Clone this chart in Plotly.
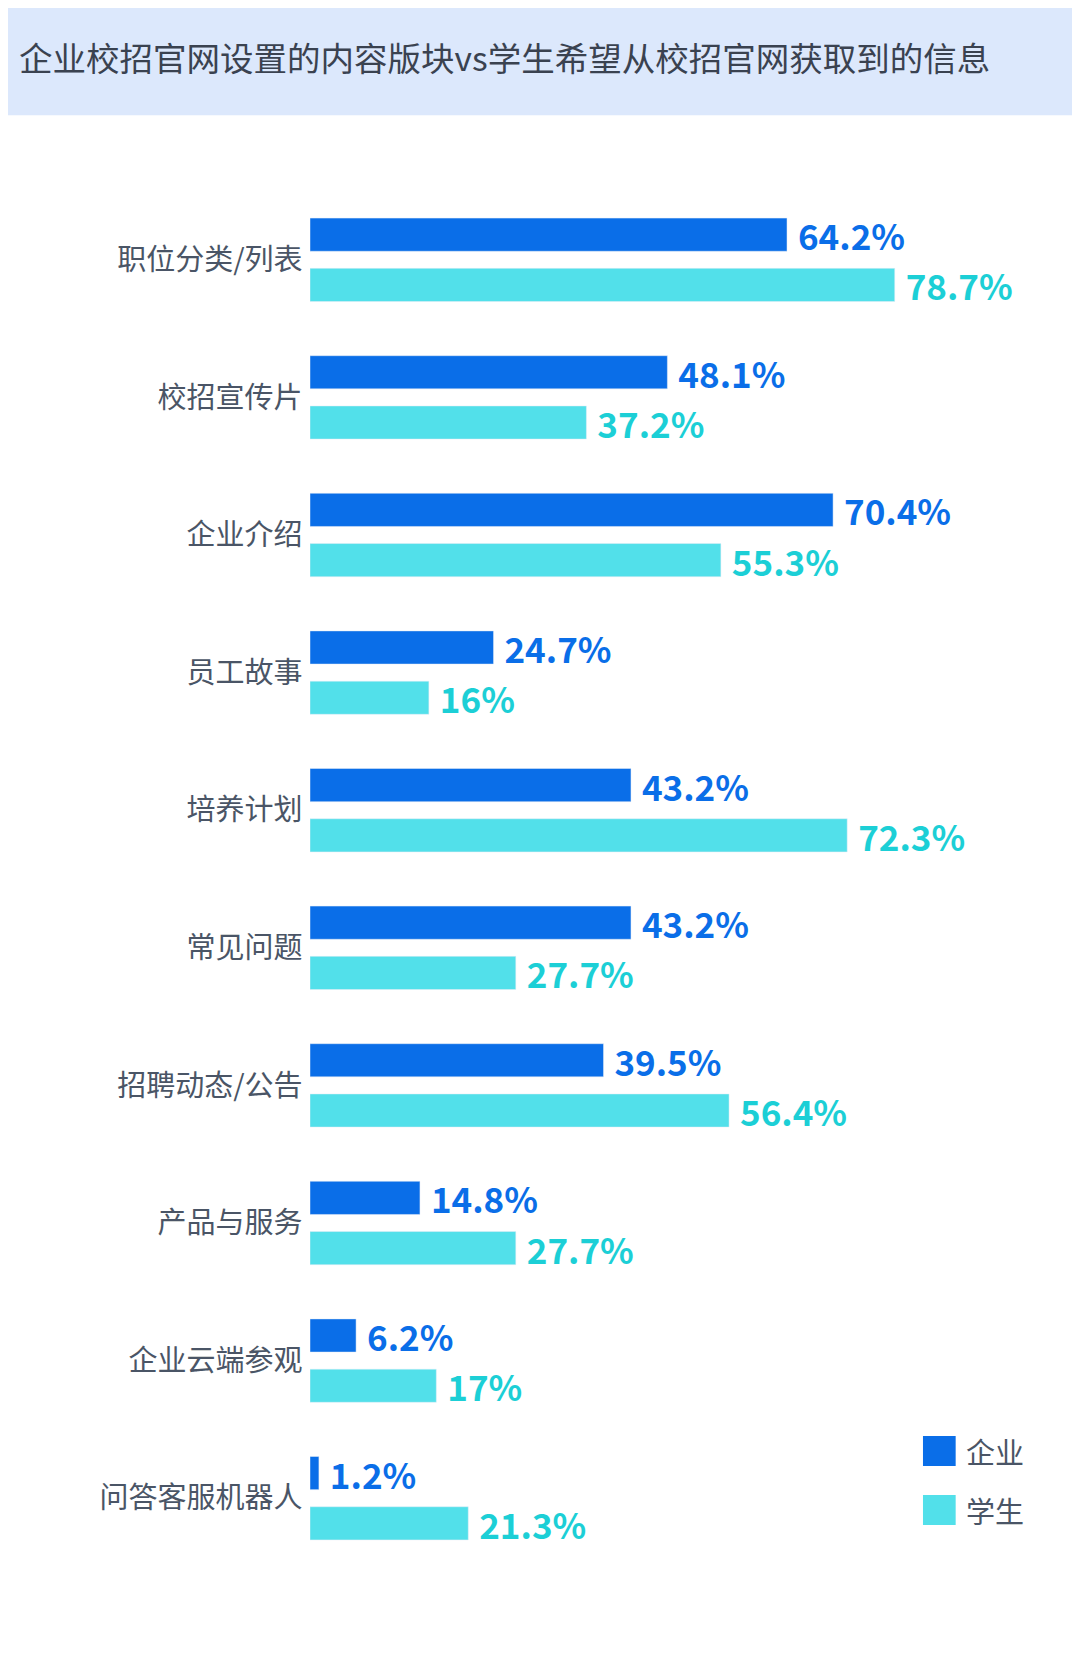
import plotly.graph_objects as go

categories = ["职位分类/列表", "校招宣传片", "企业介绍", "员工故事", "培养计划",
              "常见问题", "招聘动态/公告", "产品与服务", "企业云端参观", "问答客服机器人"]
enterprise = [64.2, 48.1, 70.4, 24.7, 43.2, 43.2, 39.5, 14.8, 6.2, 1.2]
student = [78.7, 37.2, 55.3, 16, 72.3, 27.7, 56.4, 27.7, 17, 21.3]
series_names = ["企业", "学生"]
colors = ["#0a6ee8", "#52e0ea"]
text_colors = ["#0a6ee8", "#1ccfd6"]
title = "企业校招官网设置的内容版块vs学生希望从校招官网获取到的信息"

def fmt(v):
    return f"{v:g}%"

FONT = "Noto Sans CJK SC"
fig = go.Figure()
for name, vals, c, tc in zip(series_names, [enterprise, student], colors, text_colors):
    fig.add_trace(go.Bar(y=categories, x=vals, orientation="h", name=name,
                         marker_color=c, text=[" " + fmt(v) for v in vals],
                         textposition="outside", cliponaxis=False, constraintext="none",
                         textfont=dict(color=tc, size=35, family=FONT, weight="bold")))

shapes = [dict(type="rect", xref="paper", yref="paper", x0=-0.5, x1=1.1,
               y0=1.055, y1=1.2, fillcolor="#dce8fc", line_width=0, layer="below")]
annotations = [dict(text=title, xref="paper", yref="paper", x=-0.395, y=1.098,
                    xanchor="left", yanchor="middle", showarrow=False,
                    font=dict(size=33.5, color="#3a4250", family=FONT))]
for i, (name, c) in enumerate(zip(series_names, colors)):
    y0 = 0.0952 - i * 0.0429
    shapes.append(dict(type="rect", xref="paper", yref="paper", x0=0.825, x1=0.869,
                       y0=y0 - 0.0218, y1=y0, fillcolor=c, line_width=0))
    annotations.append(dict(text=name, xref="paper", yref="paper", x=0.88, y=y0 - 0.0109,
                            xanchor="left", yanchor="middle", showarrow=False,
                            font=dict(size=29, color="#4a5566", family=FONT)))

fig.update_layout(
    width=1080, height=1665, paper_bgcolor="white", plot_bgcolor="white",
    margin=dict(l=302, r=35, t=183, b=106),
    barmode="group", bargap=0.27, bargroupgap=0.34,
    font=dict(family=FONT, color="#4a5566"),
    xaxis=dict(range=[0, 100], visible=False),
    yaxis=dict(autorange="reversed", showline=False, ticks="", showgrid=False,
               tickfont=dict(size=29, color="#4a5566"), ticksuffix=" "),
    showlegend=False, shapes=shapes, annotations=annotations,
)
fig.write_html("out.html")
